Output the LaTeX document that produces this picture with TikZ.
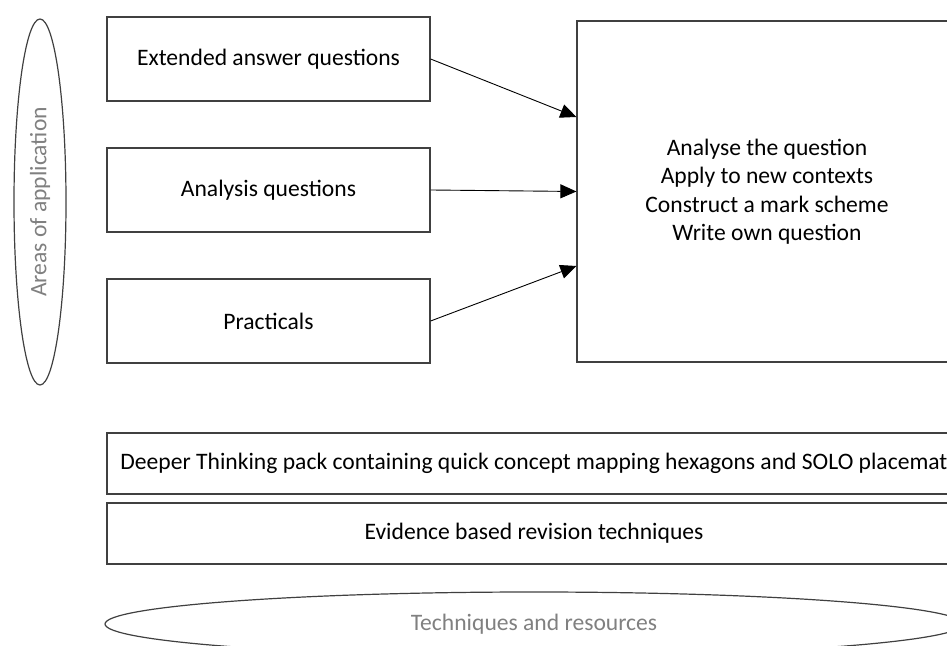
\documentclass[tikz,border=0pt]{standalone}
\usepackage{fontspec}
\setmainfont{Carlito}
\usetikzlibrary{arrows.meta,shapes.geometric}

\begin{document}
\begin{tikzpicture}[x=1pt, y=1pt,
        every node/.style={font=\fontsize{23.6}{28.5}\selectfont},
        box/.style={draw=black!75, line width=1.2pt, rectangle, align=center},
        tag/.style={draw=black!75, line width=1.2pt, ellipse, text=black!50, inner sep=0pt},
        arrow/.style={line width=0.9pt, -{Triangle[length=16pt, width=14pt]}}]
        \useasboundingbox (0, 0) rectangle (947, 645);
        \node[tag, minimum width=366pt, minimum height=52pt, rotate=90] (areas) at (40, 443) {Areas of application};
        \foreach \n/\t/\y in {ext/Extended answer questions/586, ana/Analysis questions/455, prac/Practicals/324} {
            \node[box, minimum width=323pt, minimum height=84pt] (\n) at (268.5, \y) {\t};
        }
        \node[box, minimum width=380pt, minimum height=341pt] (skills) at (767, 453.5)
            {Analyse the question\\Apply to new contexts\\Construct a mark scheme\\Write own question};
        \foreach \n/\s in {ext/74.5, ana/0, prac/-74.5} {
            \draw[arrow] (\n.east) -- ([yshift=\s pt]skills.west);
        }
        \node[box, minimum width=854pt, minimum height=61pt] (pack) at (534, 181.5)
            {Deeper Thinking pack containing quick concept mapping hexagons and SOLO placemat};
        \node[box, minimum width=854pt, minimum height=61pt] (revision) at (534, 111.5) {Evidence based revision techniques};
        \node[tag, minimum width=858pt, minimum height=64pt] (resources) at (534, 21) {Techniques and resources};
    \end{tikzpicture}
\end{document}
